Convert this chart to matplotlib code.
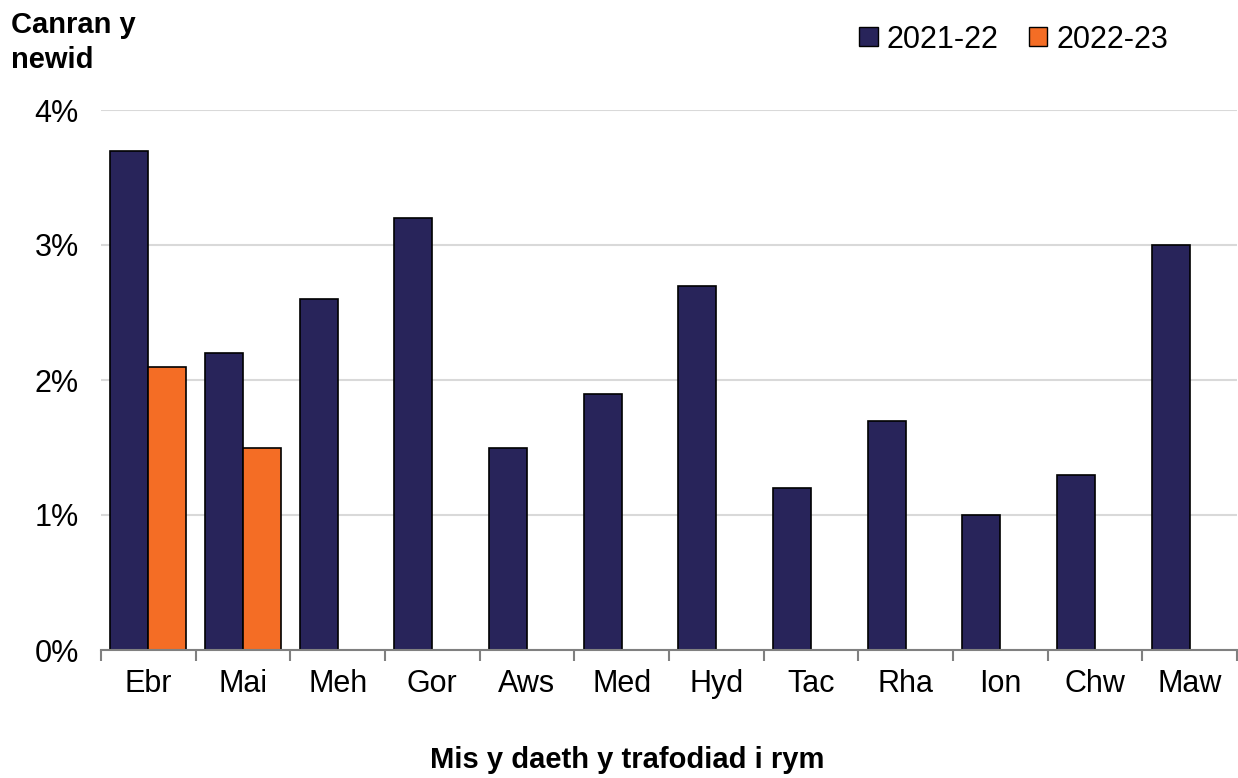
import numpy as np
import matplotlib
matplotlib.use("Agg")
from matplotlib import pyplot as plt
from matplotlib.patches import Patch
from matplotlib.ticker import FuncFormatter

plt.rcParams['font.family'] = ['Liberation Sans', 'DejaVu Sans']

# data
months = ['Ebr', 'Mai', 'Meh', 'Gor', 'Aws', 'Med', 'Hyd', 'Tac', 'Rha', 'Ion', 'Chw', 'Maw']
y2122 = [3.7, 2.2, 2.6, 3.2, 1.5, 1.9, 2.7, 1.2, 1.7, 1.0, 1.3, 3.0]
y2223 = [2.1, 1.5]
series_names = ['2021-22', '2022-23']
navy = '#28245A'
orange = '#F46D25'

fig = plt.figure(figsize=(12.38, 7.78), dpi=100)
ax = fig.add_axes([101 / 1238, 128 / 778, 1136 / 1238, 540 / 778])

x = np.arange(len(months))
w = 0.4
ax.bar(x - w / 2, y2122, width=w, color=navy, edgecolor='black', linewidth=1.2, zorder=3)
ax.bar(x[:len(y2223)] + w / 2, y2223, width=w, color=orange, edgecolor='black', linewidth=1.2, zorder=3)

ax.set_xlim(-0.5, len(months) - 0.5)
ax.set_ylim(0, 4)
ax.set_yticks([0, 1, 2, 3, 4])
ax.yaxis.set_major_formatter(FuncFormatter(lambda v, p: f'{v:.0f}%'))
ax.yaxis.grid(True, color='#d9d9d9', linewidth=1.5, zorder=0)
ax.tick_params(axis='y', length=0, pad=25, labelsize=22)
ax.tick_params(axis='y', pad=26 - 10)

# category boundaries as ticks, labels at centres
ax.set_xticks(np.arange(len(months) + 1) - 0.5)
ax.set_xticklabels([])
ax.set_xticks(x, minor=True)
ax.set_xticklabels(months, minor=True, fontsize=22)
ax.tick_params(axis='x', which='major', length=8, width=1.5, color='#808080')
ax.tick_params(axis='x', which='minor', length=0, pad=14)

for s in ['top', 'right', 'left']:
    ax.spines[s].set_visible(False)
ax.spines['bottom'].set_color('#808080')
ax.spines['bottom'].set_linewidth(1.5)
ax.spines['bottom'].set_zorder(4)

fig.text(11 / 1238, 1 - 11 / 778, 'Canran y\nnewid', fontsize=21, fontweight='bold',
         va='top', ha='left', linespacing=1.3)
fig.text(627 / 1238, 1 - 760 / 778, 'Mis y daeth y trafodiad i rym',
         fontsize=21, fontweight='bold', ha='center', va='center')

handles = [Patch(facecolor=navy, edgecolor='black'), Patch(facecolor=orange, edgecolor='black')]
fig.legend(handles, series_names, loc='upper right', bbox_to_anchor=(1196 / 1238, 1 + 3 / 778),
           ncol=2, frameon=False, fontsize=22, handlelength=0.6, handleheight=0.6,
           handletextpad=0.3, columnspacing=1.0)

fig.savefig('out.png', dpi=100)
